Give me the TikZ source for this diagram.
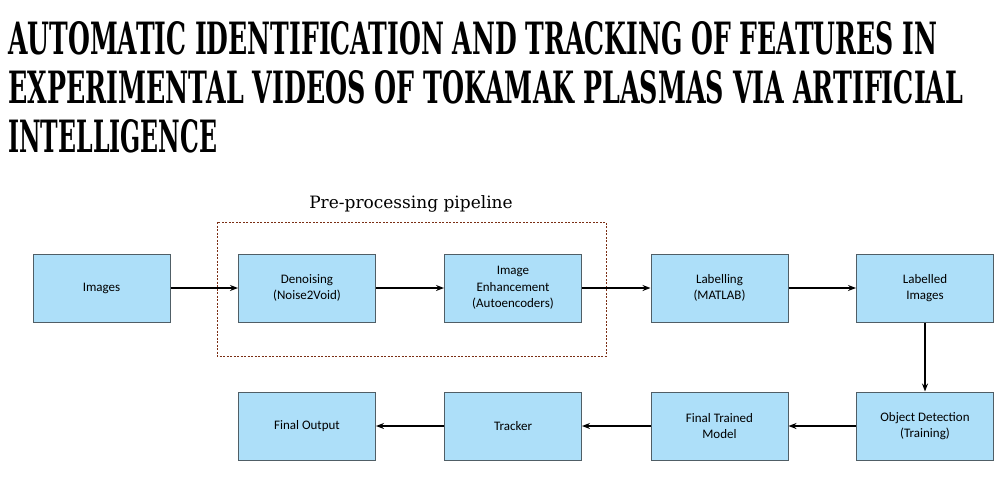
\documentclass[tikz,border=0pt]{standalone}
\usepackage{fontspec}
\setmainfont{DejaVu Serif}
\newfontfamily\boxfont{Carlito}
\usetikzlibrary{arrows.meta}
\definecolor{boxblue}{HTML}{ADDFF9}
\definecolor{boxedge}{HTML}{505E66}
\definecolor{framebrown}{HTML}{7A2E14}

\begin{document}
\begin{tikzpicture}[x=1pt,y=-1pt,
  block/.style={draw=boxedge,fill=boxblue,line width=1pt,minimum width=137pt,
    minimum height=68pt,inner sep=0pt,align=center,
    font=\boxfont\fontsize{13}{16.5}\selectfont},
  flow/.style={-{Stealth[length=8pt,width=6pt]},line width=1.6pt},
  titleline/.style={anchor=south west,inner sep=0pt}]
  \useasboundingbox (0,0) rectangle (1007,485);
  % title
  \node[titleline] (t1) at (8,55) {\resizebox{929pt}{33pt}{\bfseries AUTOMATIC IDENTIFICATION AND TRACKING OF FEATURES IN}};
  \node[titleline] (t2) at (8,104) {\resizebox{955pt}{33pt}{\bfseries EXPERIMENTAL VIDEOS OF TOKAMAK PLASMAS VIA ARTIFICIAL}};
  \node[titleline] (t3) at (8,153) {\resizebox{209pt}{33pt}{\bfseries INTELLIGENCE}};
  % pre-processing frame
  \draw[framebrown,line width=0.7pt,dash pattern=on 2pt off 1.5pt] (217,222) rectangle (606,356);
  \node[font=\fontsize{17}{19}\selectfont] (pre) at (411,204) {Pre-processing pipeline};
  % top row
  \node[block] (img) at (101.5,288) {Images};
  \node[block] (den) at (307,288) {Denoising\\(Noise2Void)};
  \node[block] (enh) at (513,288) {Image\\Enhancement\\(Autoencoders)};
  \node[block] (lab) at (719.5,288) {Labelling\\(MATLAB)};
  \node[block] (lim) at (925,288) {Labelled\\Images};
  % bottom row
  \node[block] (obj) at (925,426) {Object Detection\\(Training)};
  \node[block] (ftm) at (719.5,426) {Final Trained\\Model};
  \node[block] (trk) at (513,426) {Tracker};
  \node[block] (out) at (307,426) {Final Output};
  % arrows
  \draw[flow] (img) -- (den);
  \draw[flow] (den) -- (enh);
  \draw[flow] (enh) -- (lab);
  \draw[flow] (lab) -- (lim);
  \draw[flow] (lim) -- (obj);
  \draw[flow] (obj) -- (ftm);
  \draw[flow] (ftm) -- (trk);
  \draw[flow] (trk) -- (out);
\end{tikzpicture}
\end{document}
